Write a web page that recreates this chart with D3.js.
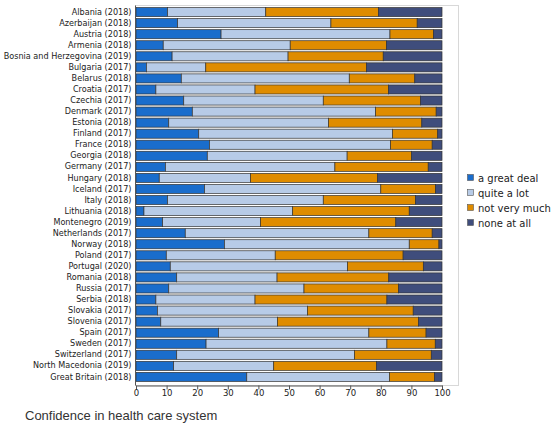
<!DOCTYPE html>
<html>
<head>
<meta charset="utf-8">
<script src="https://cdn.jsdelivr.net/npm/d3@7"></script>
<style>
body { margin: 0; background: #fff; }
svg { display: block; }
</style>
</head>
<body>
<svg id="chart" width="559" height="441"></svg>
<script>
var countries = ['Albania (2018)', 'Azerbaijan (2018)', 'Austria (2018)', 'Armenia (2018)',
    'Bosnia and Herzegovina (2019)', 'Bulgaria (2017)', 'Belarus (2018)', 'Croatia (2017)',
    'Czechia (2017)', 'Denmark (2017)', 'Estonia (2018)', 'Finland (2017)', 'France (2018)',
    'Georgia (2018)', 'Germany (2017)', 'Hungary (2018)', 'Iceland (2017)', 'Italy (2018)',
    'Lithuania (2018)', 'Montenegro (2019)', 'Netherlands (2017)', 'Norway (2018)',
    'Poland (2017)', 'Portugal (2020)', 'Romania (2018)', 'Russia (2017)', 'Serbia (2018)',
    'Slovakia (2017)', 'Slovenia (2017)', 'Spain (2017)', 'Sweden (2017)',
    'Switzerland (2017)', 'North Macedonia (2019)', 'Great Britain (2018)'];

var greatDeal = [10.3, 13.6, 27.8, 8.9, 11.8, 3.4, 14.8, 6.5, 15.6, 18.4, 10.7, 20.5, 24.0,
    23.3, 9.6, 7.6, 22.4, 10.3, 2.6, 8.7, 16.1, 28.9, 9.9, 11.2, 13.3, 10.7, 6.5, 7.0, 8.1,
    27.0, 22.9, 13.3, 12.3, 36.2];
var quiteALot = [32.1, 50.1, 55.2, 41.5, 37.9, 19.4, 54.9, 32.4, 45.6, 59.9, 52.2, 63.3, 59.2,
    45.7, 55.4, 29.8, 57.6, 50.9, 48.6, 32.0, 60.0, 60.4, 35.6, 57.9, 32.8, 44.2, 32.4, 49.0,
    38.1, 49.1, 59.1, 58.1, 32.7, 46.6];
var notVeryMuch = [36.8, 28.2, 14.2, 31.5, 31.1, 52.5, 21.4, 43.6, 31.8, 19.8, 30.5, 14.8, 13.6,
    21.0, 30.5, 41.5, 17.9, 30.1, 38.1, 44.2, 20.7, 9.7, 41.8, 24.8, 36.5, 30.9, 43.1, 34.6,
    46.1, 18.7, 15.8, 25.1, 33.6, 14.7];
var noneAtAll = [20.8, 8.1, 2.8, 18.1, 19.2, 24.7, 8.9, 17.5, 7.0, 1.9, 6.6, 1.4, 3.2,
    10.0, 4.5, 21.1, 2.1, 8.7, 10.7, 15.1, 3.2, 1.0, 12.7, 6.1, 17.4, 14.2, 18.0, 9.4,
    7.7, 5.2, 2.2, 3.5, 21.4, 2.5];

var seriesNames = ['a great deal', 'quite a lot', 'not very much', 'none at all'];
var seriesColors = ['#1a6dcc', '#b7cbe7', '#df8c00', '#3f4d7c'];
var xTicks = [0, 10, 20, 30, 40, 50, 60, 70, 80, 90, 100];
var title = 'Confidence in health care system';

var svg = d3.select('#chart');

var plot = { left: 136, right: 442, top: 7, bottom: 382 };

var table = countries.map(function(c, i) {
    return {
        country: c,
        'a great deal': greatDeal[i],
        'quite a lot': quiteALot[i],
        'not very much': notVeryMuch[i],
        'none at all': noneAtAll[i]
    };
});

var stacked = d3.stack().keys(seriesNames)(table);

var x = d3.scaleLinear().domain([0, 100]).range([plot.left, plot.right]);
var y = d3.scaleBand().domain(countries).range([plot.top, plot.bottom]).paddingInner(0.18).paddingOuter(0.05);
var color = d3.scaleOrdinal().domain(seriesNames).range(seriesColors);

// light frame round the plot
svg.append('rect')
    .attr('x', 135.5)
    .attr('y', 5.5)
    .attr('width', 323)
    .attr('height', 380)
    .attr('fill', 'none')
    .attr('stroke', '#d8d8d8');

svg.append('g')
    .selectAll('g')
    .data(stacked)
    .join('g')
    .attr('fill', function(d) { return color(d.key); })
    .selectAll('rect')
    .data(function(d) { return d; })
    .join('rect')
    .attr('x', function(d) { return x(d[0]); })
    .attr('y', function(d) { return y(d.data.country); })
    .attr('width', function(d) { return x(d[1]) - x(d[0]); })
    .attr('height', y.bandwidth())
    .attr('stroke', '#333')
    .attr('stroke-width', 0.7);

var xAxis = svg.append('g')
    .attr('transform', 'translate(0,385.5)')
    .call(d3.axisBottom(x).tickValues(xTicks).tickSize(4).tickSizeOuter(0));
xAxis.select('.domain').attr('stroke', '#555');
xAxis.selectAll('.tick line').attr('stroke', '#555');
xAxis.selectAll('text')
    .attr('font-family', 'DejaVu Sans')
    .attr('font-size', 8.5)
    .attr('fill', '#222')
    .attr('y', 5)
    .attr('dy', '0.6em');

var yAxis = svg.append('g')
    .attr('transform', 'translate(135.5,0)')
    .call(d3.axisLeft(y).tickSize(0).tickPadding(4));
yAxis.select('.domain').attr('stroke', '#555').attr('d', 'M0,5.5V385.5');
yAxis.selectAll('text')
    .attr('font-family', 'DejaVu Sans')
    .attr('font-size', 8.1)
    .attr('fill', '#222');

var legend = svg.append('g')
    .attr('transform', 'translate(467,178)');

var item = legend.selectAll('g')
    .data(seriesNames)
    .join('g')
    .attr('transform', function(d, i) { return 'translate(0,' + i * 15 + ')'; });

item.append('rect')
    .attr('x', 0.5)
    .attr('y', -3.5)
    .attr('width', 6)
    .attr('height', 6)
    .attr('fill', function(d) { return color(d); })
    .attr('stroke', '#555')
    .attr('stroke-width', 0.6);

item.append('text')
    .attr('x', 11)
    .attr('y', 0)
    .attr('dy', '0.35em')
    .attr('font-family', 'DejaVu Sans')
    .attr('font-size', 10)
    .attr('fill', '#222')
    .text(function(d) { return d; });

svg.append('text')
    .attr('x', 25)
    .attr('y', 420)
    .attr('font-family', 'Liberation Sans')
    .attr('font-size', 13)
    .attr('fill', '#333')
    .text(title);
</script>
</body>
</html>
